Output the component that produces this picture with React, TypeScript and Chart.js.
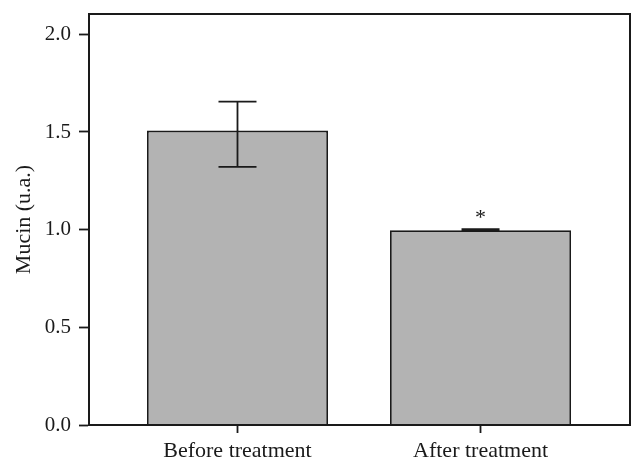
import React, { useEffect, useRef } from "react";
import { Chart, registerables } from "chart.js";

Chart.register(...registerables);

const categories = ["Before treatment", "After treatment"];
const positions = [1, 2];
const means = [1.507, 0.997];
const errUpper = [1.655, 1.003];
const errLower = [1.321, 0.997];
const significance = ["", "*"];
const yTicks = [0, 0.5, 1.0, 1.5, 2.0];

const FONT = "'Liberation Serif', 'DejaVu Serif', serif";

export default function App() {
  const ref = useRef<HTMLCanvasElement | null>(null);

  useEffect(() => {
    document.body.style.margin = "0";
    const canvas = ref.current;
    if (!canvas) return;

    const errorBars = {
      id: "errorBars",
      afterDatasetsDraw(chart: any) {
        const { ctx, scales, chartArea } = chart;
        const xs = scales.x;
        const ys = scales.y;
        ctx.save();
        ctx.strokeStyle = "#1a1a1a";
        ctx.lineWidth = 1.8;
        positions.forEach((p, i) => {
          const x = xs.getPixelForValue(p);
          const yt = ys.getPixelForValue(errUpper[i]);
          const yb = ys.getPixelForValue(errLower[i]);
          const hw = 19;
          ctx.beginPath();
          ctx.moveTo(x, yt);
          ctx.lineTo(x, yb);
          ctx.moveTo(x - hw, yt);
          ctx.lineTo(x + hw, yt);
          ctx.moveTo(x - hw, yb);
          ctx.lineTo(x + hw, yb);
          ctx.stroke();
          if (significance[i]) {
            ctx.fillStyle = "#1a1a1a";
            ctx.font = `22px ${FONT}`;
            ctx.textAlign = "center";
            ctx.textBaseline = "middle";
            ctx.fillText(significance[i], x, yt - 11);
          }
        });
        ctx.lineWidth = 2;
        ctx.strokeRect(
          chartArea.left,
          chartArea.top,
          chartArea.right - chartArea.left,
          chartArea.bottom - chartArea.top
        );
        ctx.restore();
      },
    };

    const chart = new Chart(canvas, {
      type: "bar",
      data: {
        datasets: [
          {
            data: positions.map((p, i) => ({ x: p, y: means[i] })),
            backgroundColor: "#b3b3b3",
            borderColor: "#1a1a1a",
            borderWidth: 1.8,
            categoryPercentage: 1,
            barPercentage: 0.745,
          },
        ],
      },
      options: {
        animation: false,
        responsive: false,
        maintainAspectRatio: false,
        layout: { padding: { top: 14, right: 14, left: 0, bottom: 0 } },
        plugins: {
          legend: { display: false },
          tooltip: { enabled: false },
        },
        scales: {
          x: {
            type: "linear",
            offset: false,
            min: 0.389,
            max: 2.615,
            afterBuildTicks(scale: any) {
              scale.ticks = positions.map((v) => ({ value: v }));
            },
            afterFit(scale: any) {
              scale.height = 47;
              scale.paddingLeft = 0;
              scale.paddingRight = 0;
            },
            grid: {
              offset: false,
              drawOnChartArea: false,
              tickLength: 8,
              tickColor: "#1a1a1a",
              tickWidth: 1.8,
            },
            border: { color: "#1a1a1a", width: 2 },
            ticks: {
              color: "#1a1a1a",
              padding: 5,
              maxRotation: 0,
              autoSkip: false,
              font: { family: FONT, size: 22 },
              callback: (v: any) => {
                const i = positions.indexOf(Number(v));
                return i >= 0 ? categories[i] : "";
              },
            },
          },
          y: {
            type: "linear",
            min: 0,
            max: 2.104,
            afterBuildTicks(scale: any) {
              scale.ticks = yTicks.map((v) => ({ value: v }));
            },
            afterFit(scale: any) {
              scale.width = 89;
              scale.paddingTop = 0;
              scale.paddingBottom = 0;
            },
            grid: {
              drawOnChartArea: false,
              tickLength: 10,
              tickColor: "#1a1a1a",
              tickWidth: 1.8,
            },
            border: { color: "#1a1a1a", width: 2 },
            ticks: {
              color: "#1a1a1a",
              padding: 8,
              font: { family: FONT, size: 21 },
              callback: (v: any) => Number(v).toFixed(1),
            },
            title: {
              display: true,
              text: "Mucin (u.a.)",
              color: "#1a1a1a",
              font: { family: FONT, size: 22 },
              padding: { top: 11, bottom: 0 },
            },
          },
        },
      },
      plugins: [errorBars],
    });

    return () => chart.destroy();
  }, []);

  return (
    <div style={{ position: "fixed", left: 0, top: 0, width: 644, height: 472, background: "#fff" }}>
      <canvas ref={ref} width={644} height={472} style={{ width: 644, height: 472 }} />
    </div>
  );
}
